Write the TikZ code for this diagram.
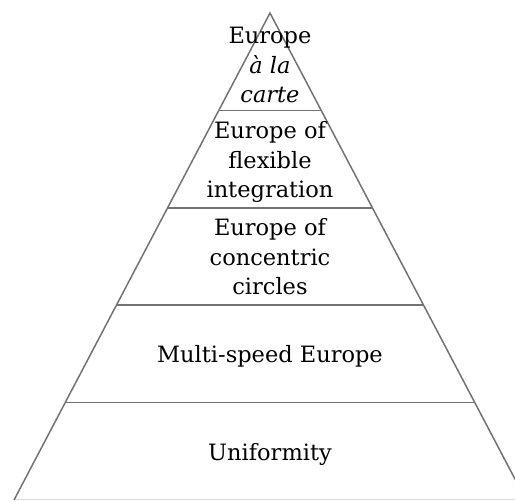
\documentclass[tikz,border=0pt]{standalone}
\usepackage{fontspec}
\setmainfont{DejaVu Serif}
\usepackage{tikz}
\tikzstyle{tier} = [text centered, align = center, inner sep = 0pt, font = \fontsize{22.5}{29.5}\selectfont]
\tikzstyle{edge} = [draw = black!55, line width = 1.5pt]

\begin{document}
\begin{tikzpicture}[x = 1pt, y = -1pt]
	\useasboundingbox (0,0) rectangle (515,502);
	\clip (0,0) rectangle (515,502);

	% outline of the pyramid
	\coordinate (top) at (270,13);
	\coordinate (baseL) at (14,500);
	\coordinate (baseR) at (526,500);
	\fill [white] (top) -- (baseL) -- (baseR) -- cycle;
	\draw [draw = black!15, line width = 1pt] (baseL) -- (baseR);
	\draw [edge] (baseL) -- (top) -- (baseR);

	% dividing lines between the levels
	\coordinate (l1) at (218.8,110.4);
	\coordinate (r1) at (321.2,110.4);
	\coordinate (l2) at (167.6,207.8);
	\coordinate (r2) at (372.4,207.8);
	\coordinate (l3) at (116.4,305.2);
	\coordinate (r3) at (423.6,305.2);
	\coordinate (l4) at (65.2,402.6);
	\coordinate (r4) at (474.8,402.6);
	\draw [edge] (l1) -- (r1);
	\draw [edge] (l2) -- (r2);
	\draw [edge] (l3) -- (r3);
	\draw [edge] (l4) -- (r4);

	\node (carte)[tier] at (270,65) {Europe\\\textit{à la}\\\textit{carte}};
	\node (flex)[tier] at (270,162) {Europe of\\flexible\\integration};
	\node (circles)[tier] at (270,257) {Europe of\\concentric\\circles};
	\node (speed)[tier] at (270,356) {Multi-speed Europe};
	\node (uniform)[tier] at (270,454) {Uniformity};
\end{tikzpicture}
\end{document}
